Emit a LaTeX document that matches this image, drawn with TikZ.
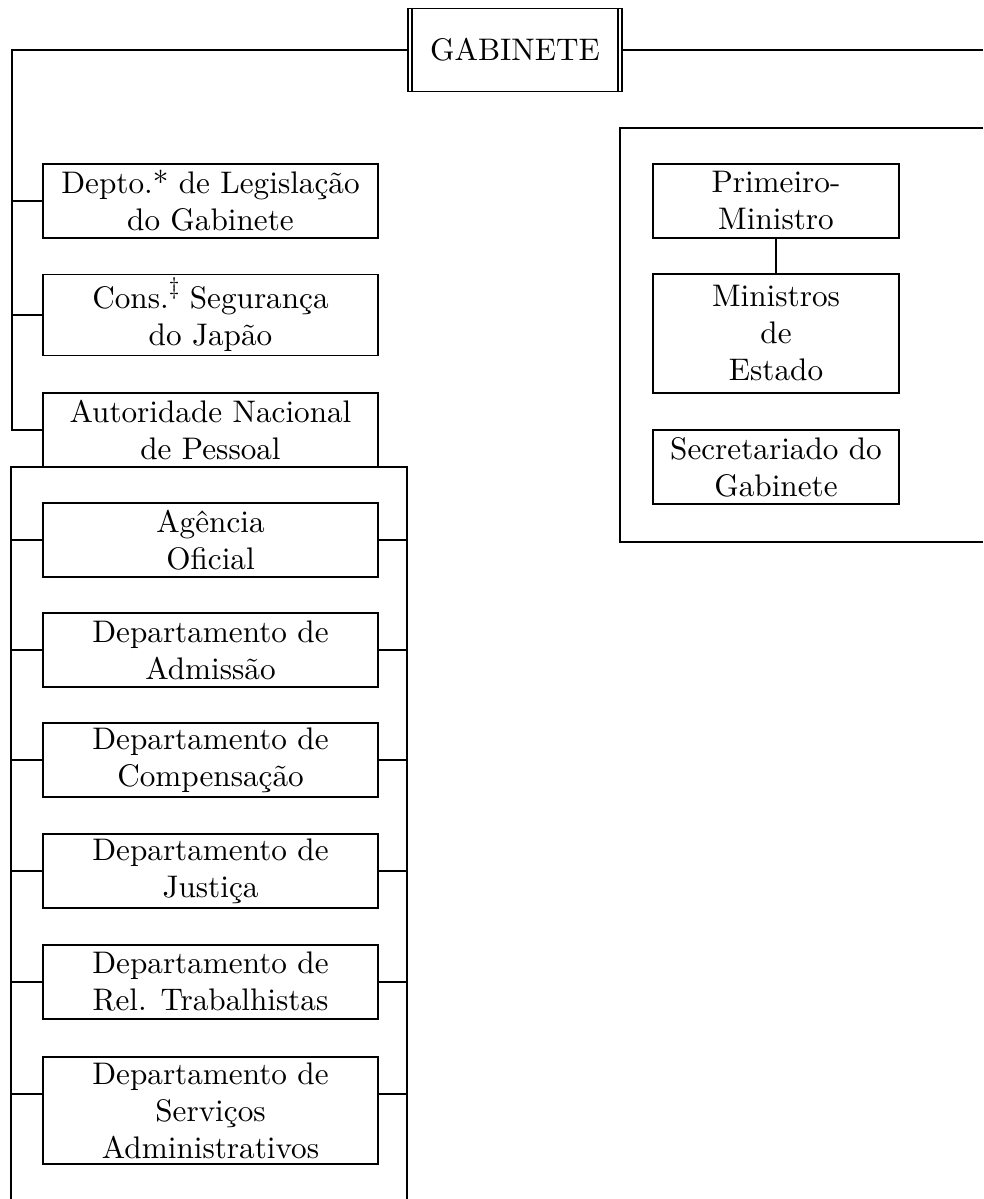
\documentclass[tikz,border=0pt]{standalone}
\usepackage{fontspec}
\setmainfont{lmroman10-regular}[Extension=.otf, BoldFont=lmroman10-bold]
\begin{document}
\begin{tikzpicture}[x=1pt,y=-1pt]
\tikzset{
  conn/.style={line width=1.8pt},
  box/.style={draw, line width=1.8pt, rectangle, inner sep=0pt, align=center,
    font=\fontsize{31.2}{37}\selectfont, minimum width=335pt, minimum height=74pt},
  rbox/.style={box, minimum width=246pt},
  gabbox/.style={box, minimum width=214pt, minimum height=83pt}
}
\useasboundingbox (0,0) rectangle (983,1199);
% top
\node[gabbox] (gab) at (515,50) {GABINETE};
\draw[conn] ([xshift=5pt]gab.north west) -- ([xshift=5pt]gab.south west);
\draw[conn] ([xshift=-5pt]gab.north east) -- ([xshift=-5pt]gab.south east);

% left column
\node[box] (leg) at (210.5,201) {Depto.* de Legislação\\do Gabinete};
\node[box, minimum height=81pt] (cons) at (210.5,315) {Cons.\raisebox{0.45em}{\fontsize{24}{24}\selectfont ‡} Segurança\\do Japão};
\node[box] (aut) at (210.5,430) {Autoridade Nacional\\de Pessoal};
\coordinate (lt) at (12,50);
\draw[conn] (gab.west) -- (lt) -- (lt |- aut.west) -- (aut.west);
\draw[conn] (lt |- leg.west) -- (leg.west);
\draw[conn] (lt |- cons.west) -- (cons.west);

% big box under Autoridade
\coordinate (bl) at (11,1199);
\coordinate (btl) at (11,467);
\coordinate (btr) at (407,467);
\coordinate (br) at (407,1199);
\draw[conn] (bl) -- (btl) -- (btr) -- (br);

\node[box] (ag) at (210.5,540) {Agência\\Oficial};
\node[box] (adm) at (210.5,650) {Departamento de\\Admissão};
\node[box] (comp) at (210.5,760) {Departamento de\\Compensação};
\node[box] (just) at (210.5,871) {Departamento de\\Justiça};
\node[box] (rel) at (210.5,982) {Departamento de\\Rel. Trabalhistas};
\node[box, minimum height=107pt] (serv) at (210.5,1110.5) {Departamento de\\Serviços\\Administrativos};
\foreach \n in {ag,adm,comp,just,rel}{
  \draw[conn] (btl |- \n.west) -- (\n.west);
  \draw[conn] (\n.east) -- (btr |- \n.east);
}
\coordinate (sl) at (11,1094);
\coordinate (sr) at (407,1094);
\draw[conn] (sl) -- (serv.west |- sl);
\draw[conn] (serv.east |- sr) -- (sr);

% right side
\coordinate (rr) at (983,50);
\draw[conn] (gab.east) -- (rr);
\coordinate (rtr) at (983,128);
\coordinate (rtl) at (620,128);
\coordinate (rbl) at (620,542);
\coordinate (rbr) at (983,542);
\draw[conn] (rtr) -- (rtl) -- (rbl) -- (rbr);
\node[rbox] (pm) at (776,201) {Primeiro-\\Ministro};
\node[rbox, minimum height=119pt] (me) at (776,333.5) {Ministros\\de\\Estado};
\node[rbox] (sec) at (776,467) {Secretariado do\\Gabinete};
\draw[conn] (pm) -- (me);
\end{tikzpicture}
\end{document}
